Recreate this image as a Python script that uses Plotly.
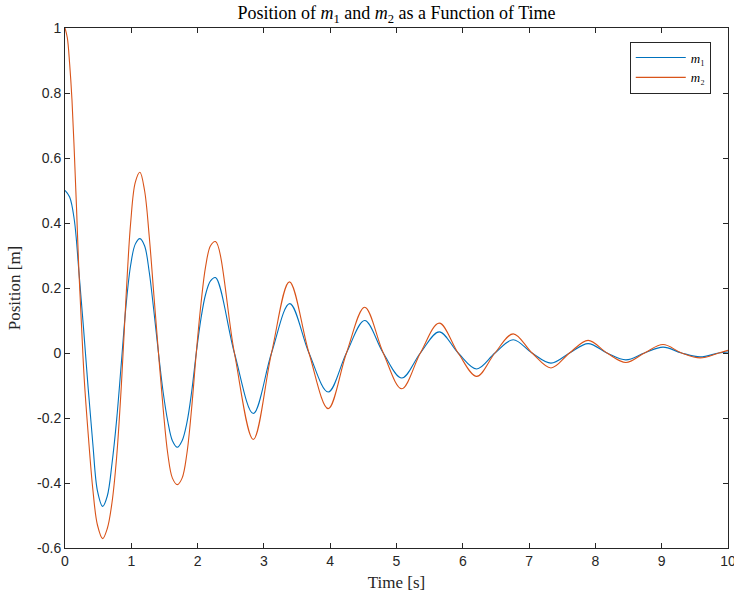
import plotly.graph_objects as go

# ---- data ----
t_m1 = [0, 0.07, 0.14, 0.21, 0.28, 0.35, 0.42, 0.49, 0.568,
        0.638, 0.709, 0.779, 0.85, 0.92, 0.99, 1.06, 1.13,
        1.20, 1.27, 1.34, 1.41, 1.48, 1.55, 1.62, 1.694,
        1.766, 1.838, 1.91, 1.98, 2.05, 2.12, 2.195, 2.27,
        2.555, 2.84, 3.115, 3.39, 3.68, 3.97, 4.245, 4.52, 4.80, 5.08, 5.36, 5.645,
        5.93, 6.21, 6.485, 6.76, 7.045, 7.33, 7.61, 7.89, 8.175, 8.46, 8.74, 9.02,
        9.30, 9.58, 9.86, 10.0]
y_m1 = [0.50, 0.48, 0.41, 0.25, 0.075, -0.11, -0.28, -0.425, -0.472,
        -0.44, -0.34, -0.205, -0.03, 0.145, 0.27, 0.335, 0.352,
        0.33, 0.25, 0.13, 0.0, -0.12, -0.21, -0.27, -0.29,
        -0.27, -0.215, -0.12, 0.0, 0.105, 0.18, 0.222, 0.232,
        0.0, -0.186, 0.0, 0.152, 0.0, -0.12, 0.0, 0.10, 0.0, -0.077, 0.0, 0.065,
        0.0, -0.049, 0.0, 0.041, 0.0, -0.031, 0.0, 0.029, 0.0, -0.021, 0.0, 0.018,
        0.0, -0.012, 0.0, 0.003]

t_m2 = [0, 0.035, 0.07, 0.105, 0.14, 0.175, 0.21, 0.25, 0.29, 0.35, 0.42, 0.49, 0.568,
        0.638, 0.709, 0.779, 0.85, 0.92, 0.99, 1.06, 1.13,
        1.20, 1.27, 1.34, 1.41, 1.48, 1.55, 1.62, 1.694,
        1.766, 1.838, 1.91, 1.98, 2.05, 2.12, 2.195, 2.27,
        2.555, 2.84, 3.115, 3.385, 3.68, 3.97, 4.245, 4.52, 4.80, 5.08, 5.36, 5.645,
        5.93, 6.21, 6.485, 6.76, 7.045, 7.33, 7.61, 7.89, 8.175, 8.46, 8.74, 9.02,
        9.30, 9.58, 9.86, 10.0]
y_m2 = [1.0, 0.97, 0.89, 0.78, 0.62, 0.44, 0.25, 0.08, -0.08, -0.25, -0.42, -0.53, -0.571,
        -0.54, -0.46, -0.32, -0.10, 0.17, 0.40, 0.525, 0.556,
        0.50, 0.36, 0.18, 0.0, -0.17, -0.31, -0.385, -0.405,
        -0.385, -0.31, -0.17, 0.0, 0.15, 0.265, 0.33, 0.343,
        0.0, -0.266, 0.0, 0.219, 0.0, -0.171, 0.0, 0.141, 0.0, -0.11, 0.0, 0.092,
        0.0, -0.072, 0.0, 0.059, 0.0, -0.046, 0.0, 0.039, 0.0, -0.029, 0.0, 0.026,
        0.0, -0.015, 0.0, 0.008]

x_ticks = [0, 1, 2, 3, 4, 5, 6, 7, 8, 9, 10]
x_tick_labels = ["0", "1", "2", "3", "4", "5", "6", "7", "8", "9", "10"]
y_ticks = [-0.6, -0.4, -0.2, 0, 0.2, 0.4, 0.6, 0.8, 1]
y_tick_labels = ["-0.6", "-0.4", "-0.2", "0", "0.2", "0.4", "0.6", "0.8", "1"]

SERIF = "Liberation Serif, DejaVu Serif, serif"
SANS = "Liberation Sans, Arial, sans-serif"
AX = "#262626"

fig = go.Figure()
fig.add_trace(go.Scatter(x=t_m1, y=y_m1, mode="lines", name="<i>m</i>₁",
                         line=dict(color="#0072BD", width=1.1, shape="spline", smoothing=1)))
fig.add_trace(go.Scatter(x=t_m2, y=y_m2, mode="lines", name="<i>m</i>₂",
                         line=dict(color="#D95319", width=1.1, shape="spline", smoothing=1)))

axis_common = dict(showgrid=False, zeroline=False, showline=True, linecolor=AX, linewidth=1,
                   mirror="ticks", ticks="inside", ticklen=5, tickcolor=AX, automargin=False,
                   ticklabeloverflow="allow",
                   tickfont=dict(family=SANS, size=14, color=AX))

fig.update_layout(
    width=734, height=596,
    margin=dict(l=65, r=6, t=28, b=48),
    paper_bgcolor="white", plot_bgcolor="white",
    title=dict(text="Position of <i>m</i><sub>1</sub> and <i>m</i><sub>2</sub> as a Function of Time",
               x=(65 + 728) / 2 / 734, xanchor="center", y=1 - 13 / 596, yanchor="middle",
               font=dict(family=SERIF, size=18, color="black"), automargin=False),
    xaxis=dict(range=[0, 10], tickvals=x_ticks, ticktext=x_tick_labels,
               title=dict(text="Time [s]", font=dict(family=SERIF, size=17, color=AX), standoff=8),
               **axis_common),
    yaxis=dict(range=[-0.6, 1], tickvals=y_ticks, ticktext=y_tick_labels,
               title=dict(text="Position [m]", font=dict(family=SERIF, size=17, color=AX), standoff=12),
               **axis_common),
    legend=dict(x=0.974, y=0.974, xanchor="right", yanchor="top",
                bordercolor=AX, borderwidth=1, bgcolor="white",
                font=dict(family=SERIF, size=13, color="black"),
                tracegroupgap=0, itemwidth=50),
    showlegend=True,
)

fig.write_html("out.html", config={"displayModeBar": False},
               post_script="document.body.style.margin='0';")
